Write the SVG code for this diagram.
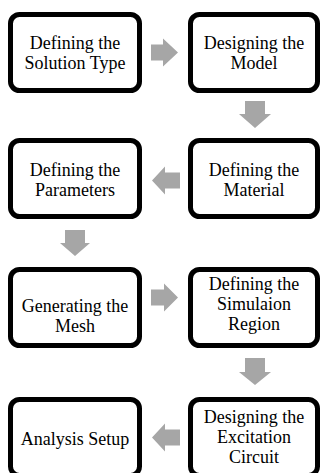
<svg xmlns="http://www.w3.org/2000/svg" width="321" height="473" viewBox="0 0 321 473">
<style>
.box{fill:#fff;stroke:#000;stroke-width:5}
.t{font-family:'Liberation Serif','Times New Roman',serif;font-size:18px;fill:#000;text-anchor:middle}
.arr{fill:#a6a6a6;stroke:none}
</style>
<rect width="321" height="473" fill="#fff"/>
<g id="connectors">
<polygon class="arr" points="151,44.5 163,44.5 163,38.5 178,52.5 163,66.5 163,60.5 151,60.5"/>
<polygon class="arr" points="245,101 265,101 265,114 271,114 255,128 239,114 245,114"/>
<polygon class="arr" points="180,172.5 165,172.5 165,166.5 152,180.5 165,194.5 165,188.5 180,188.5"/>
<polygon class="arr" points="65,230 85,230 85,243 90,243 75,256 60,243 65,243"/>
<polygon class="arr" points="151,289.5 164,289.5 164,283.5 178,297.5 164,311.5 164,305.5 151,305.5"/>
<polygon class="arr" points="245,358 265,358 265,372 271,372 255,385 239,372 245,372"/>
<polygon class="arr" points="180,429.5 165,429.5 165,423.5 152,437.5 165,451.5 165,445.5 180,445.5"/>
</g>
<g id="n1"><rect class="box" x="10.5" y="14.5" width="129" height="76" rx="9"/>
<text class="t" x="75" y="48.5">Defining the</text><text class="t" x="75" y="68.5">Solution Type</text></g>
<g id="n2"><rect class="box" x="190.5" y="14.5" width="127" height="76" rx="9"/>
<text class="t" x="254" y="48.5">Designing the</text><text class="t" x="254" y="68.5">Model</text></g>
<g id="n3"><rect class="box" x="190.5" y="140.5" width="127" height="76" rx="9"/>
<text class="t" x="254" y="175.5">Defining the</text><text class="t" x="254" y="195.5">Material</text></g>
<g id="n4"><rect class="box" x="10.5" y="140.5" width="129" height="76" rx="9"/>
<text class="t" x="75" y="175.5">Defining the</text><text class="t" x="75" y="195.5">Parameters</text></g>
<g id="n5"><rect class="box" x="10.5" y="269.5" width="129" height="76" rx="9"/>
<text class="t" x="75" y="312">Generating the</text><text class="t" x="75" y="332">Mesh</text></g>
<g id="n6"><rect class="box" x="190.5" y="269.5" width="127" height="76" rx="9"/>
<text class="t" x="254" y="290">Defining the</text><text class="t" x="254" y="310">Simulaion</text><text class="t" x="254" y="330">Region</text></g>
<g id="n7"><rect class="box" x="190.5" y="399.5" width="127" height="76" rx="9"/>
<text class="t" x="254" y="423">Designing the</text><text class="t" x="254" y="443">Excitation</text><text class="t" x="254" y="463">Circuit</text></g>
<g id="n8"><rect class="box" x="10.5" y="399.5" width="129" height="76" rx="9"/>
<text class="t" x="75" y="445">Analysis Setup</text></g>
</svg>
